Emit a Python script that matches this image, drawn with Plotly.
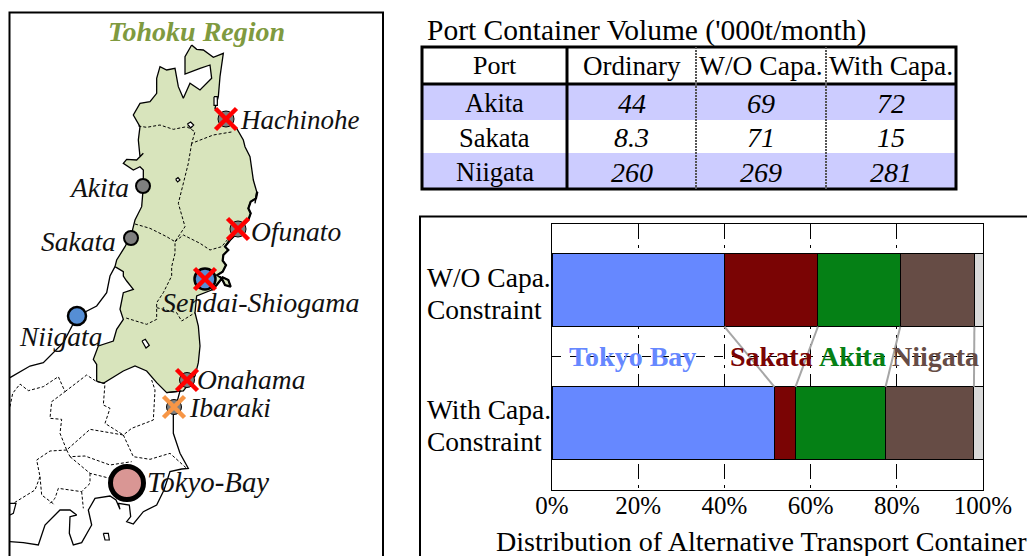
import plotly.graph_objects as go

SERIF = "Liberation Serif"

# ---- stacked bar data (percent) ----
bar_rows = [["With Capa.", "Constraint"], ["W/O Capa.", "Constraint"]]
bar_pos = [0.25, 0.75]
tokyo = [51.6, 40.0]
sakata = [4.9, 21.7]
akita = [20.9, 19.1]
niigata = [20.5, 17.2]
other = [2.1, 2.0]
series_names = ["Tokyo Bay", "Sakata", "Akita", "Niigata", "Other"]
series_colors = ["#6688ff", "#7a0404", "#058015", "#664c45", "#d9d9d9"]
x_ticks = [0, 20, 40, 60, 80, 100]
x_tick_text = ["0%", "20%", "40%", "60%", "80%", "100%"]

# ---- table data ----
table_title = "Port Container Volume ('000t/month)"
table_header = ["Port", "Ordinary", "W/O Capa.", "With Capa."]
table_ports = ["Akita", "Sakata", "Niigata"]
table_ordinary = ["44", "8.3", "260"]
table_wo = ["69", "71", "269"]
table_with = ["72", "15", "281"]
col_edges = [422, 567, 696, 826, 956]
row_edges = [47, 84, 120, 153, 189]

# ---- map geometry, in picture pixels ----
def z1(pts):
    return [(x / 3, y / 3) for x, y in pts]
def z2(pts):
    return [(x / 3, 276 + y / 3) for x, y in pts]
def z3(pts):
    return [(10 + x / 3, 370 + y / 3) for x, y in pts]
def z4(pts):
    return [(180 + x / 3, 190 + y / 3) for x, y in pts]

sanriku = z4([(232,5),(228,25),(212,35),(205,55),(212,70),(205,90),(185,110),(165,135),(150,150),(135,170),(145,180),
              (130,195),(128,212),(138,225),(128,245),(112,255),(125,265),(135,285),(152,290),(145,270),(128,262),(110,285),(95,300)])
tohoku = z1([(575,135),(590,148),(610,150),(640,172),(670,160),(665,190),(660,230),(655,290),(645,325),(680,355),
             (710,385),(730,420),(735,440),(750,470),(755,500),(760,540),(770,575),(765,610)]) + sanriku + \
    z2([(590,60),(585,110),(595,150),(600,210),(595,260),(585,300),(550,345),(500,350),
        (470,320),(440,285),(405,270),(370,285),(310,322),(290,315),(290,265),(280,250),(295,210),(340,195),(350,160),
        (370,130),(360,100),(370,50),(400,40),(380,15),(370,0)]) + \
    z1([(370,815),(345,800),(350,780),(375,740),(395,700),(405,660),(425,620),(430,560),(430,510),(420,500),(400,510),
        (370,490),(380,478),(410,480),(430,460),(420,470),(415,420),(420,380),(400,345),(420,310),(450,305),(470,280),
        (470,235),(480,200),(500,210),(525,205),(535,260),(550,295),(570,250),(600,270),(635,235),(630,195),(600,205),
        (555,222),(555,170),(575,135)])

coast_niigata = z2([(30,305),(90,270),(130,260),(190,200),(232,120),(290,90),(320,50),(330,0)]) + z1([(330,828),(345,800)])
coast_south = z2([(500,350),(540,345),(525,400)]) + \
    z3([(490,135),(490,190),(510,250),(535,295),(515,297),(480,305),(462,360),(440,405),(400,425),(370,462),(350,455),
        (362,440),(358,405),(325,400),(330,418),(318,390),(300,378),(255,385),(235,420),(245,465),(215,518),(190,525),
        (178,490),(180,440),(200,435),(180,420),(150,420),(105,465),(85,525),(40,518),(0,515)])
lakes = [z1([(562,372),(572,366),(581,375),(572,384),(562,372)]),
         z1([(527,538),(534,533),(540,540),(533,546),(527,538)]),
         z1([(642,290),(652,290),(652,316),(642,316),(642,290)]),
         z2([(426,195),(436,190),(448,208),(438,216),(426,195)]),
         z3([(280,490),(295,490),(298,510),(285,510),(280,490)]),
         z3([(0,400),(18,400),(10,430),(0,435)])]
borders = [z1([(415,378),(440,382),(480,375),(520,388),(560,380),(585,395),(575,430),(640,405),(700,395)]),
           z1([(575,430),(565,490),(555,530),(545,570),(535,610),(555,680),(525,725)]),
           z1([(405,672),(450,685),(500,710),(525,725)]),
           z1([(525,725),(550,705),(600,730),(630,750),(665,740),(690,710)]),
           z1([(525,730),(525,760),(515,800),(515,828)]) + z2([(515,0),(490,50),(470,80),(470,130),(440,145),(375,125)]),
           z2([(470,95),(530,110),(545,135),(585,110)]),
           z3([(0,110),(8,70),(30,42),(55,62),(100,50),(145,20),(165,65),(125,95),(120,145),(155,148),(150,190),(170,240),
               (240,178),(285,185),(340,195),(365,175),(430,150),(435,60),(425,30)]),
           z3([(165,65),(230,15),(260,35),(285,40),(280,105),(300,115),(285,160),(340,195)]),
           z3([(170,240),(120,243),(80,270),(90,320),(75,360),(10,400)]),
           z3([(170,240),(180,260),(225,258),(300,285),(365,275)]),
           z3([(340,195),(370,260),(420,268),(480,250),(530,295)]),
           z3([(180,260),(240,310),(300,325)]),
           z3([(240,310),(240,340),(215,365),(145,355),(135,385),(120,400)]),
           z3([(215,365),(220,415)]),
           z3([(90,320),(95,375),(135,405)])]

port_names = ["Hachinohe", "Akita", "Sakata", "Ofunato", "Niigata", "Sendai-Shiogama", "Onahama", "Ibaraki", "Tokyo-Bay"]
port_x = [226, 143, 131, 238, 77, 205, 187, 174, 127]
port_y = [119, 186, 238, 229, 316, 279, 380, 407, 483]
port_size = [16, 14, 14, 16, 18, 21, 15, 15, 33]
port_fill = ["#7f7f7f", "#7f7f7f", "#7f7f7f", "#7f7f7f", "#558ed5", "#558ed5", "#7f7f7f", "#7f7f7f", "#d99694"]
port_edge = [1, 2, 2, 1, 2.5, 2.5, 1, 1, 5]
label_x = [240, 69, 41, 251, 19, 162, 197, 189, 147]
label_y = [120, 187, 241, 231, 336, 302, 379, 407, 482]
label_size = [27, 27.5, 27.5, 27.5, 27.5, 28, 27.5, 27.5, 28.8]
red_idx = [0, 3, 5, 6]
orange_idx = [7]

def xy(pts):
    return [p[0] for p in pts], [p[1] for p in pts]

def multi(segs):
    xs, ys = [], []
    for s in segs:
        a, b = xy(s)
        xs += a + [None]
        ys += b + [None]
    return xs, ys

fig = go.Figure()
X = dict(xaxis="x", yaxis="y", hoverinfo="skip", showlegend=False)

# table row fills and rules
shapes = []
for i, c in enumerate(["#ccccff", "#ffffff", "#ccccff"]):
    shapes.append(dict(type="rect", xref="x", yref="y", x0=col_edges[0], x1=col_edges[-1],
                       y0=row_edges[i + 1], y1=row_edges[i + 2], fillcolor=c, line_width=0, layer="below"))
shapes.append(dict(type="rect", xref="x", yref="y", x0=col_edges[0], x1=col_edges[-1], y0=row_edges[0], y1=row_edges[-1],
                   line=dict(color="black", width=3), fillcolor="rgba(0,0,0,0)"))
shapes.append(dict(type="line", xref="x", yref="y", x0=col_edges[0], x1=col_edges[-1], y0=row_edges[1], y1=row_edges[1],
                   line=dict(color="black", width=3)))
shapes.append(dict(type="line", xref="x", yref="y", x0=col_edges[1], x1=col_edges[1], y0=row_edges[0], y1=row_edges[-1],
                   line=dict(color="black", width=3)))
for c in col_edges[2:4]:
    shapes.append(dict(type="line", xref="x", yref="y", x0=c, x1=c, y0=row_edges[0], y1=row_edges[-1],
                       line=dict(color="#555555", width=2, dash="2px,1px")))
# map frame and chart frame
shapes.append(dict(type="path", xref="x", yref="y", path="M 9.5 570 L 9.5 12.5 L 383 12.5 L 383 570",
                   line=dict(color="black", width=2)))
shapes.append(dict(type="path", xref="x", yref="y", path="M 420 570 L 420 216.5 L 1040 216.5",
                   line=dict(color="black", width=2)))

# map
a, b = xy(tohoku)
fig.add_trace(go.Scatter(x=a, y=b, mode="lines", fill="toself", fillcolor="#d8e4bc",
                         line=dict(color="black", width=1.3), **X))
a, b = xy(sanriku)
fig.add_trace(go.Scatter(x=a, y=b, mode="lines", line=dict(color="black", width=2.2), **X))
for seg in (coast_niigata, coast_south):
    a, b = xy(seg)
    fig.add_trace(go.Scatter(x=a, y=b, mode="lines", line=dict(color="black", width=1.3), **X))
a, b = multi(lakes)
fig.add_trace(go.Scatter(x=a, y=b, mode="lines", fill="toself", fillcolor="white", line=dict(color="black", width=1.2), **X))
a, b = multi(borders)
fig.add_trace(go.Scatter(x=a, y=b, mode="lines", line=dict(color="black", width=1, dash="3px,2px"), **X))
fig.add_trace(go.Scatter(x=port_x, y=port_y, mode="markers",
                         marker=dict(size=port_size, color=port_fill, opacity=1, line=dict(color="black", width=port_edge)), **X))
fig.add_trace(go.Scatter(x=[port_x[i] for i in red_idx], y=[port_y[i] for i in red_idx], mode="markers",
                         marker=dict(symbol="x-thin", size=21, opacity=1, line=dict(color="#ff0000", width=4.5)), **X))
fig.add_trace(go.Scatter(x=[port_x[i] for i in orange_idx], y=[port_y[i] for i in orange_idx], mode="markers",
                         marker=dict(symbol="x-thin", size=21, opacity=1, line=dict(color="#f79646", width=4.5)), **X))

# stacked bars
B = dict(xaxis="x2", yaxis="y2", orientation="h", width=0.2744, showlegend=False, hoverinfo="skip",
         marker_line=dict(color="black", width=1))
all_vals = [tokyo, sakata, akita, niigata, other]
for name, col, vals in zip(series_names, series_colors, all_vals):
    fig.add_trace(go.Bar(y=bar_pos, x=vals, name=name, marker_color=col, **B))

# connector lines between the bars, from the cumulative shares
cx, cy = [], []
low, high = 0, 0
half = 0.2744 / 2
for vals in all_vals[:-1]:
    low += vals[0]
    high += vals[1]
    cx += [high, low, None]
    cy += [bar_pos[1] - half, bar_pos[0] + half, None]
fig.add_trace(go.Scatter(x=cx, y=cy, mode="lines", line=dict(color="#a6a6a6", width=2),
                         xaxis="x2", yaxis="y2", hoverinfo="skip", showlegend=False))

# texts
ann = []
def text(x, y, s, size=25, italic=False, bold=False, color="black", anchor="left", yanchor="middle", align="left"):
    if italic:
        s = "<i>" + s + "</i>"
    if bold:
        s = "<b>" + s + "</b>"
    ann.append(dict(x=x, y=y, xref="x", yref="y", text=s, showarrow=False, xanchor=anchor, yanchor=yanchor, align=align,
                    borderpad=0, borderwidth=0, font=dict(family=SERIF, size=size, color=color)))

text(196, 31, "Tohoku Region", size=28, italic=True, bold=True, color="#7f9a3f", anchor="center")
for n, lx, ly, ls in zip(port_names, label_x, label_y, label_size):
    text(lx, ly, n, size=ls, italic=True, color="#111111")

text(427, 30, table_title, size=29.5)
cols = [table_ports, table_ordinary, table_wo, table_with]
hdr_sizes = [26, 27, 27.5, 27.5]
for j in range(4):
    cx_ = (col_edges[j] + col_edges[j + 1]) / 2
    text(cx_, (row_edges[0] + row_edges[1]) / 2, table_header[j], size=hdr_sizes[j], anchor="center")
    for i in range(3):
        text(cx_, (row_edges[i + 1] + row_edges[i + 2]) / 2 + 1, cols[j][i], size=28 if j else 26.5, italic=(j > 0), anchor="center")

for row, ys in zip(bar_rows, [(409, 441), (277, 309)]):
    for line, ly in zip(row, ys):
        text(427, ly, line, size=27.5)
for name, col, lx in zip(series_names[:4], series_colors[:4], [569, 730, 819, 892]):
    text(lx, 356, name, size=28, bold=True, color=col)
text(496, 541, "Distribution of Alternative Transport Container", size=28.1)

fig.update_layout(
    width=1027, height=556, autosize=False, margin=dict(l=0, r=0, t=0, b=0, autoexpand=False),
    paper_bgcolor="white", plot_bgcolor="rgba(0,0,0,0)", barmode="stack", shapes=shapes, annotations=ann,
    xaxis=dict(domain=[0, 1], range=[0, 1027], visible=False, fixedrange=True),
    yaxis=dict(domain=[0, 1], range=[556, 0], visible=False, fixedrange=True),
    xaxis2=dict(domain=[552 / 1027, 983 / 1027], range=[0, 100], anchor="y2", tickvals=x_ticks, ticktext=x_tick_text,
                tickfont=dict(family=SERIF, size=25, color="black"), showgrid=True, ticklabelstandoff=-7,
                gridcolor="black", griddash="longdashdot", gridwidth=1, showline=True, linecolor="black", linewidth=1, mirror=True,
                zeroline=False, ticks=""),
    yaxis2=dict(domain=[(556 - 490) / 556, (556 - 223.5) / 556], range=[0, 1], anchor="x2", tickvals=[0.5], showticklabels=False,
                showgrid=True, gridcolor="black", griddash="dash", gridwidth=1, showline=True, linecolor="black", linewidth=1,
                mirror=True, zeroline=False, ticks=""),
)

fig.write_html("out.html", config={"displayModeBar": False},
               post_script="document.body.style.margin='0';document.documentElement.style.overflow='hidden';")
